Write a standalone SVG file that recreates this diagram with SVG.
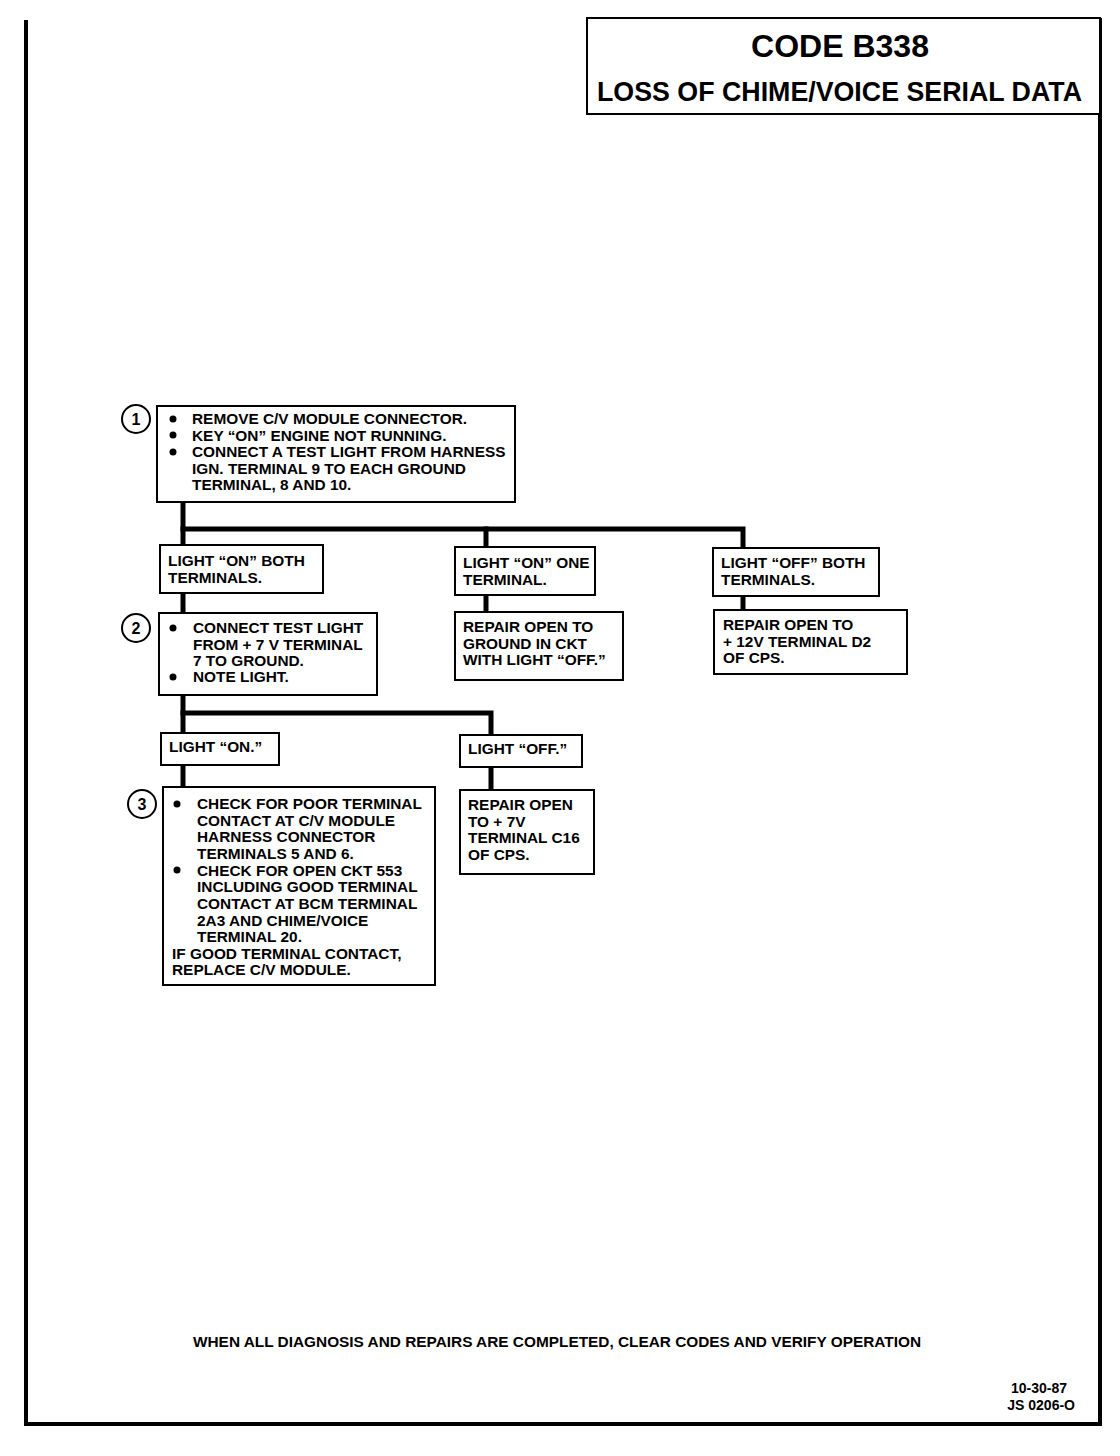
<svg xmlns="http://www.w3.org/2000/svg" width="1120" height="1456" viewBox="0 0 1120 1456">
<style>
.bg{fill:#fff}
.box{fill:#fff;stroke:#000;stroke-width:2}
.frame{fill:none;stroke:#000;stroke-width:4}
.wire{fill:none;stroke:#000;stroke-width:5;stroke-linecap:square}
.t{font-family:"Liberation Sans",Arial,sans-serif;font-weight:bold;font-size:15.4px;fill:#000}
.num{font-family:"Liberation Sans",Arial,sans-serif;font-weight:bold;font-size:16px;fill:#000;text-anchor:middle}
.circ{fill:#fff;stroke:#000;stroke-width:2}
.dot{fill:#000}
</style>
<rect class="bg" x="0" y="0" width="1120" height="1456"/>
<g id="page-frame">
<polyline class="frame" points="26,20 26,1424 1100,1424 1100,18"/>
</g>
<g id="title">
<rect class="box" x="587" y="18" width="513" height="96"/>
<text class="t" x="840" y="57" text-anchor="middle" style="font-size:32px">CODE B338</text>
<text class="t" x="597" y="101" style="font-size:28px" textLength="485" lengthAdjust="spacingAndGlyphs">LOSS OF CHIME/VOICE SERIAL DATA</text>
</g>
<g id="connectors">
<polyline class="wire" points="183,502 183,545"/>
<polyline class="wire" points="183,529 743,529 743,548"/>
<polyline class="wire" points="486,529 486,547"/>
<polyline class="wire" points="183,593 183,613"/>
<polyline class="wire" points="486,595 486,612"/>
<polyline class="wire" points="743,596 743,610"/>
<polyline class="wire" points="183,695 183,733"/>
<polyline class="wire" points="183,713 491,713 491,735"/>
<polyline class="wire" points="183,765 183,787"/>
<polyline class="wire" points="491,767 491,790"/>
</g>
<g id="step1">
<circle class="circ" cx="136" cy="419" r="14"/>
<text class="num" x="136" y="425">1</text>
<rect class="box" x="157" y="406" width="358" height="96"/>
<circle class="dot" cx="173" cy="419" r="3.5"/>
<circle class="dot" cx="173" cy="435" r="3.5"/>
<circle class="dot" cx="173" cy="452" r="3.5"/>
<text class="t" x="192" y="424">REMOVE C/V MODULE CONNECTOR.</text>
<text class="t" x="192" y="441">KEY “ON” ENGINE NOT RUNNING.</text>
<text class="t" x="192" y="457">CONNECT A TEST LIGHT FROM HARNESS</text>
<text class="t" x="192" y="474">IGN. TERMINAL 9 TO EACH GROUND</text>
<text class="t" x="192" y="490">TERMINAL, 8 AND 10.</text>
</g>
<g id="on-both">
<rect class="box" x="160" y="545" width="163" height="48"/>
<text class="t" x="168" y="566">LIGHT “ON” BOTH</text>
<text class="t" x="168" y="583">TERMINALS.</text>
</g>
<g id="on-one">
<rect class="box" x="455" y="547" width="140" height="48"/>
<text class="t" x="463" y="568">LIGHT “ON” ONE</text>
<text class="t" x="463" y="585">TERMINAL.</text>
</g>
<g id="off-both">
<rect class="box" x="713" y="548" width="166" height="48"/>
<text class="t" x="721" y="568">LIGHT “OFF” BOTH</text>
<text class="t" x="721" y="585">TERMINALS.</text>
</g>
<g id="step2">
<circle class="circ" cx="136" cy="628" r="14"/>
<text class="num" x="136" y="634">2</text>
<rect class="box" x="159" y="613" width="218" height="82"/>
<circle class="dot" cx="173" cy="628" r="3.5"/>
<circle class="dot" cx="173" cy="677" r="3.5"/>
<text class="t" x="193" y="633">CONNECT TEST LIGHT</text>
<text class="t" x="193" y="650">FROM  + 7 V TERMINAL</text>
<text class="t" x="193" y="666">7 TO GROUND.</text>
<text class="t" x="193" y="682">NOTE LIGHT.</text>
</g>
<g id="repair-ground">
<rect class="box" x="455" y="612" width="168" height="68"/>
<text class="t" x="463" y="632">REPAIR OPEN TO</text>
<text class="t" x="463" y="649">GROUND IN CKT</text>
<text class="t" x="463" y="665">WITH LIGHT “OFF.”</text>
</g>
<g id="repair-12v">
<rect class="box" x="714" y="610" width="193" height="64"/>
<text class="t" x="723" y="630">REPAIR OPEN TO</text>
<text class="t" x="723" y="647">+ 12V TERMINAL D2</text>
<text class="t" x="723" y="663">OF CPS.</text>
</g>
<g id="light-on">
<rect class="box" x="161" y="733" width="118" height="32"/>
<text class="t" x="169" y="752">LIGHT “ON.”</text>
</g>
<g id="light-off">
<rect class="box" x="460" y="735" width="122" height="32"/>
<text class="t" x="468" y="754">LIGHT “OFF.”</text>
</g>
<g id="step3">
<circle class="circ" cx="142" cy="804" r="14"/>
<text class="num" x="142" y="810">3</text>
<rect class="box" x="163" y="787" width="272" height="198"/>
<circle class="dot" cx="177" cy="804" r="3.5"/>
<circle class="dot" cx="177" cy="870" r="3.5"/>
<text class="t" x="197" y="809">CHECK FOR POOR TERMINAL</text>
<text class="t" x="197" y="826">CONTACT AT C/V MODULE</text>
<text class="t" x="197" y="842">HARNESS CONNECTOR</text>
<text class="t" x="197" y="859">TERMINALS 5 AND 6.</text>
<text class="t" x="197" y="876">CHECK FOR OPEN CKT 553</text>
<text class="t" x="197" y="892">INCLUDING GOOD TERMINAL</text>
<text class="t" x="197" y="909">CONTACT AT BCM TERMINAL</text>
<text class="t" x="197" y="926">2A3 AND CHIME/VOICE</text>
<text class="t" x="197" y="942">TERMINAL 20.</text>
<text class="t" x="172" y="959">IF GOOD TERMINAL CONTACT,</text>
<text class="t" x="172" y="975">REPLACE C/V MODULE.</text>
</g>
<g id="repair-7v">
<rect class="box" x="460" y="790" width="134" height="84"/>
<text class="t" x="468" y="810">REPAIR OPEN</text>
<text class="t" x="468" y="827">TO  + 7V</text>
<text class="t" x="468" y="843">TERMINAL C16</text>
<text class="t" x="468" y="860">OF CPS.</text>
</g>
<g id="footer">
<text class="t" x="193" y="1347" style="font-size:14px" textLength="728" lengthAdjust="spacingAndGlyphs">WHEN ALL DIAGNOSIS AND REPAIRS ARE COMPLETED, CLEAR CODES AND VERIFY OPERATION</text>
<text class="t" x="1067" y="1393" style="font-size:14px" text-anchor="end">10-30-87</text>
<text class="t" x="1075" y="1410" style="font-size:14px" text-anchor="end">JS 0206-O</text>
</g>
</svg>
